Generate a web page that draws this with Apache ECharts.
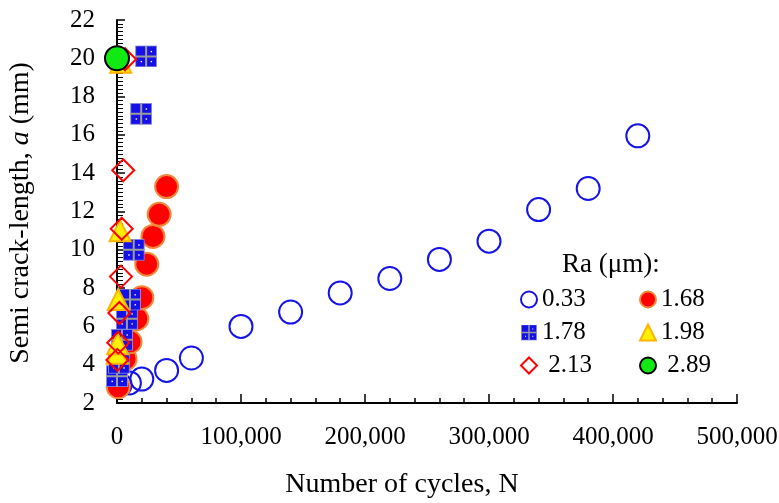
<!DOCTYPE html>
<html>
<head>
<meta charset="utf-8">
<script src="https://cdn.jsdelivr.net/npm/echarts@6/dist/echarts.min.js"></script>
<style>
  html, body { margin: 0; padding: 0; background: #fff; }
  #chart { width: 779px; height: 503px; }
</style>
</head>
<body>
<div id="chart"></div>
<script>
// Crack growth: semi crack-length a (mm) vs. number of cycles N, per surface roughness Ra
const roughness = ['0.33', '1.68', '1.78', '1.98', '2.13', '2.89'];

const cyclesRa033 = [2500, 10000, 20000, 40000, 60000, 100000, 140000, 180000, 220000, 260000, 300000, 340000, 380000, 420000];
const crackRa033  = [2.95, 3.05, 3.25, 3.7, 4.35, 6.0, 6.75, 7.75, 8.5, 9.5, 10.45, 12.1, 13.2, 15.95];

const cyclesRa168 = [1000, 6500, 10500, 16000, 20000, 24000, 29000, 34000, 40000];
const crackRa168  = [2.85, 4.3, 5.2, 6.4, 7.5, 9.25, 10.7, 11.85, 13.3];

const cyclesRa178 = [0, 1500, 4000, 8000, 10500, 13500, 19500, 23500];
const crackRa178  = [3.4, 4.1, 5.3, 6.4, 7.4, 10.0, 17.1, 20.1];

const cyclesRa198 = [0, 500, 1000, 2500, 3000];
const crackRa198  = [4.6, 5.1, 7.4, 11.0, 19.8];

const cyclesRa213 = [300, 1000, 1900, 3200, 3800, 5000, 6500];
const crackRa213  = [4.25, 5.15, 6.7, 8.6, 11.1, 14.15, 19.95];

const cyclesRa289 = [0];
const crackRa289  = [20.0];

const xTicks = [0, 100000, 200000, 300000, 400000, 500000];
const yTicks = [2, 4, 6, 8, 10, 12, 14, 16, 18, 20, 22];

const FONT = '"Liberation Serif", "Times New Roman", serif';

function pairs(xs, ys) { return xs.map((x, i) => [x, ys[i]]); }

// blue square marker split by a grey cross
const squareSvg =
  "<svg xmlns='http://www.w3.org/2000/svg' width='22' height='22' viewBox='0 0 22 22'>" +
  "<rect x='0.5' y='0.5' width='21' height='21' fill='#1410e6' stroke='#8c8cdc' stroke-width='1'/>" +
  "<path d='M11 0V22M0 11H22' stroke='#9c9c9c' stroke-width='2'/>" +
  "<rect x='15.5' y='5.5' width='1.4' height='1.4' fill='#fff'/>" +
  "<rect x='5.5' y='15.5' width='1.4' height='1.4' fill='#fff'/>" +
  "<rect x='15.5' y='15.5' width='1.4' height='1.4' fill='#fff'/>" +
  "</svg>";
const squareSymbol = 'image://data:image/svg+xml;charset=utf-8,' + encodeURIComponent(squareSvg);

const styles = {
  '0.33': { symbol: 'circle', size: 23, itemStyle: { color: 'rgba(0,0,0,0)', borderColor: '#1414e6', borderWidth: 2 } },
  '1.68': { symbol: 'circle', size: 23, itemStyle: { color: '#ff0000', borderColor: '#f3883a', borderWidth: 2 } },
  '1.78': { symbol: squareSymbol, size: 22, itemStyle: {} },
  '1.98': { symbol: 'triangle', size: 21, itemStyle: { color: '#fff000', borderColor: '#ffb400', borderWidth: 2 } },
  '2.13': { symbol: 'diamond', size: 22, itemStyle: { color: 'rgba(0,0,0,0)', borderColor: '#ff0000', borderWidth: 2 } },
  '2.89': { symbol: 'circle', size: 24, itemStyle: { color: '#12e812', borderColor: '#000000', borderWidth: 2 } }
};

const seriesData = {
  '0.33': pairs(cyclesRa033, crackRa033),
  '1.68': pairs(cyclesRa168, crackRa168),
  '1.78': pairs(cyclesRa178, crackRa178),
  '1.98': pairs(cyclesRa198, crackRa198),
  '2.13': pairs(cyclesRa213, crackRa213),
  '2.89': pairs(cyclesRa289, crackRa289)
};

const series = roughness.map((r, i) => ({
  name: r,
  type: 'scatter',
  symbol: styles[r].symbol,
  symbolSize: styles[r].size,
  itemStyle: Object.assign({ opacity: 1 }, styles[r].itemStyle),
  data: seriesData[r],
  z: 2 + i,
  emphasis: { disabled: true },
  animation: false
}));

const legendText = { fontFamily: FONT, fontSize: 25, color: '#000' };
function legendColumn(names, left) {
  return {
    orient: 'vertical',
    left: left,
    top: 282,
    itemGap: 8,
    itemWidth: 16,
    itemHeight: 16,
    data: names,
    selectedMode: false,
    textStyle: legendText,
    formatter: n => (n === '2.13' || n === '2.89') ? ' ' + n : n
  };
}

const chart = echarts.init(document.getElementById('chart'), null, { renderer: 'canvas' });
chart.setOption({
  animation: false,
  backgroundColor: '#ffffff',
  grid: { left: 117, right: 42, top: 20, bottom: 100, containLabel: false, outerBoundsMode: 'none' },
  xAxis: {
    type: 'value',
    min: xTicks[0],
    max: xTicks[xTicks.length - 1],
    interval: xTicks[1] - xTicks[0],
    axisLine: { show: true, onZero: false, lineStyle: { color: '#000', width: 2 } },
    axisTick: { show: true, inside: true, length: 9, lineStyle: { color: '#000', width: 1.5 } },
    minorTick: { show: true, splitNumber: 5, length: 5, lineStyle: { color: '#000', width: 1.5 } },
    axisLabel: {
      fontFamily: FONT, fontSize: 25, color: '#000', margin: 22,
      formatter: v => v.toLocaleString('en-US')
    },
    splitLine: { show: false }
  },
  yAxis: {
    type: 'value',
    min: yTicks[0],
    max: yTicks[yTicks.length - 1],
    interval: yTicks[1] - yTicks[0],
    axisLine: { show: true, onZero: false, lineStyle: { color: '#000', width: 2 } },
    axisTick: { show: true, inside: true, length: 8, lineStyle: { color: '#000', width: 1.5 } },
    minorTick: { show: true, splitNumber: 10, length: 6, lineStyle: { color: '#000', width: 1 } },
    axisLabel: { fontFamily: FONT, fontSize: 25, color: '#000', margin: 22 },
    splitLine: { show: false }
  },
  legend: [
    legendColumn(['0.33', '1.78', '2.13'], 515),
    legendColumn(['1.68', '1.98', '2.89'], 634)
  ],
  graphic: [
    {
      type: 'text',
      left: 562,
      top: 251,
      style: { text: 'Ra (μm):', fontFamily: FONT, fontSize: 27, fill: '#000' }
    },
    {
      type: 'text',
      x: 402,
      y: 485,
      style: {
        text: 'Number of cycles, N', fontFamily: FONT, fontSize: 28, fill: '#000',
        align: 'center', verticalAlign: 'middle'
      }
    },
    {
      type: 'text',
      x: 21,
      y: 213,
      rotation: Math.PI / 2,
      style: {
        text: 'Semi crack-length, {i|a} (mm)', fontFamily: FONT, fontSize: 28, fill: '#000',
        align: 'center', verticalAlign: 'middle',
        rich: { i: { fontFamily: FONT, fontSize: 28, fontStyle: 'italic', fill: '#000' } }
      }
    }
  ],
  series: series
});
</script>
</body>
</html>
